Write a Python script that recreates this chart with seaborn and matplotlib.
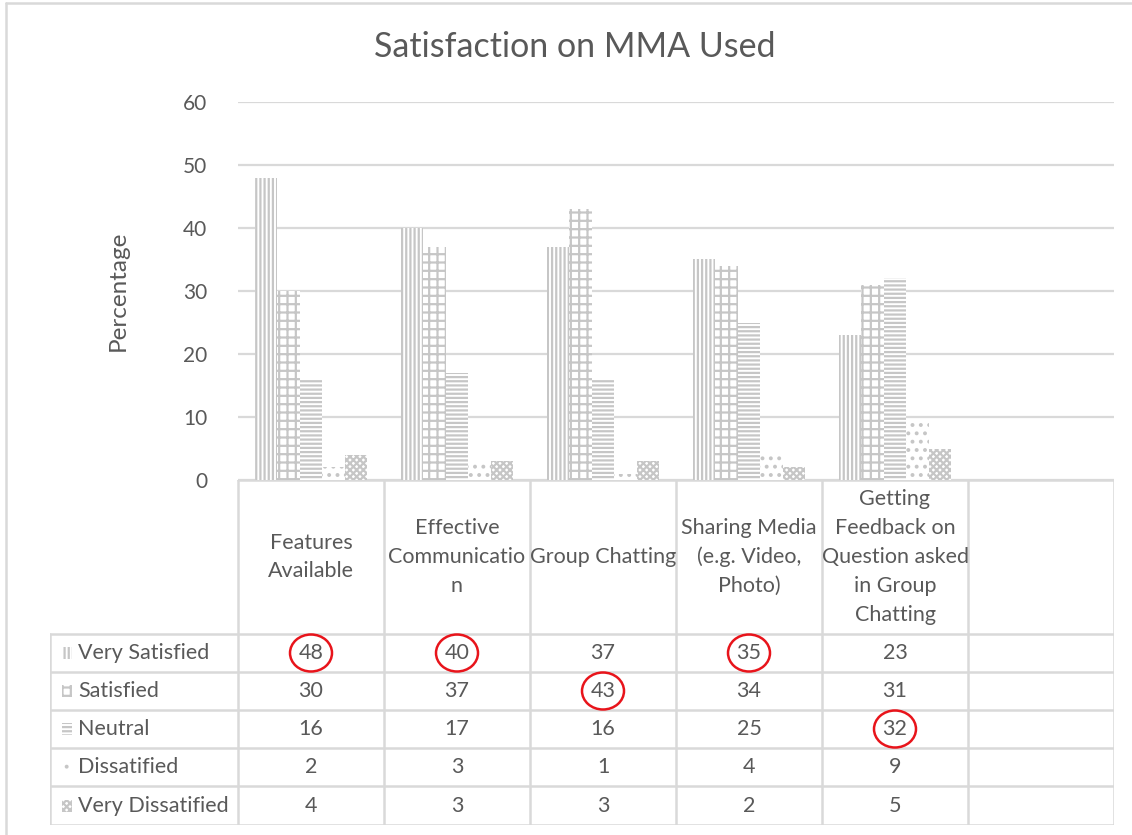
import matplotlib
matplotlib.use("Agg")
import matplotlib.pyplot as plt
from matplotlib.patches import Ellipse, Rectangle
from matplotlib.lines import Line2D
import seaborn as sns
import pandas as pd

categories = ["Features Available", "Effective Communication", "Group Chatting",
              "Sharing Media (e.g. Video, Photo)",
              "Getting Feedback on Question asked in Group Chatting"]
header_labels = ["Features\nAvailable", "Effective\nCommunicatio\nn", "Group Chatting",
                 "Sharing Media\n(e.g. Video,\nPhoto)",
                 "Getting\nFeedback on\nQuestion asked\nin Group\nChatting"]
series = ["Very Satisfied", "Satisfied", "Neutral", "Dissatified", "Very Dissatified"]
very_satisfied = [48, 40, 37, 35, 23]
satisfied = [30, 37, 43, 34, 31]
neutral = [16, 17, 16, 25, 32]
dissatisfied = [2, 3, 1, 4, 9]
very_dissatisfied = [4, 3, 3, 2, 5]
yticks = [0, 10, 20, 30, 40, 50, 60]
title = "Satisfaction on MMA Used"
ylabel = "Percentage"

values = [very_satisfied, satisfied, neutral, dissatisfied, very_dissatisfied]
rows = []
for s, vals in zip(series, values):
    for c, v in zip(categories, vals):
        rows.append({"Category": c, "Series": s, "Value": v})
df = pd.DataFrame(rows)

sns.set_theme(style="white")
plt.rcParams["font.family"] = ["Lato", "DejaVu Sans"]
plt.rcParams["hatch.linewidth"] = 1.6

W, H = 1132, 835
fig = plt.figure(figsize=(W / 100, H / 100), dpi=100)
fig.patch.set_facecolor("white")

GRID = "#d9d9d9"
TXT = "#595959"
HATCH_COL = "#c6c6c6"
hatches = ["||||", "++", "----", "..", "xxxxx"]
FS = 15.5

ax_l, ax_r, ax_b, ax_t = 238, 1114, 480, 102
ax = fig.add_axes([ax_l / W, 1 - ax_b / H, (ax_r - ax_l) / W, (ax_b - ax_t) / H])
sns.barplot(data=df, x="Category", y="Value", hue="Series", order=categories,
            hue_order=series, width=0.77, gap=0, legend=False, ax=ax,
            errorbar=None)
for cont, h in zip(ax.containers, hatches):
    for p in cont:
        p.set_facecolor("white")
        p.set_edgecolor(HATCH_COL)
        p.set_linewidth(0)
        p.set_hatch(h)
        p.set_zorder(3)

ax.set_xlim(-0.5, 5.5)
ax.set_ylim(0, 60)
ax.set_yticks(yticks)
ax.set_yticklabels([str(t) for t in yticks], fontsize=15, color=TXT)
ax.tick_params(axis="y", length=0, pad=22)
ax.set_xticks([])
ax.set_xlabel("")
ax.set_ylabel("")
ax.grid(axis="y", color=GRID, linewidth=1.6, zorder=0)
for sp in ax.spines.values():
    sp.set_visible(False)
ax.set_facecolor("none")

fig.text(118 / W, 1 - 291 / H, ylabel, rotation=90, ha="center", va="center",
         fontsize=17.5, color=TXT)
fig.text(575 / W, 1 - 47 / H, title, ha="center", va="center",
         fontsize=24.5, color=TXT)

# data table
tb_l, tb_r, tb_t, tb_b = 50, 1114, 480, 825
tx = fig.add_axes([tb_l / W, 1 - tb_b / H, (tb_r - tb_l) / W, (tb_b - tb_t) / H])
unit = (ax_r - ax_l) / 6.0
x_left = -0.5 - (ax_l - tb_l) / unit
tx.set_xlim(x_left, 5.5)
tx.set_ylim(tb_b - tb_t, 0)
tx.axis("off")

row_lines = [154, 192, 230, 268, 306, 345]
lw = 1.8
tx.add_line(Line2D([-0.5, 5.5], [0, 0], color=GRID, lw=lw))
for y in row_lines:
    tx.add_line(Line2D([x_left, 5.5], [y, y], color=GRID, lw=lw))
tx.add_line(Line2D([x_left, x_left], [row_lines[0], row_lines[-1]], color=GRID, lw=lw))
for xv in [-0.5, 0.5, 1.5, 2.5, 3.5, 4.5, 5.5]:
    tx.add_line(Line2D([xv, xv], [0, row_lines[-1]], color=GRID, lw=lw))

for i, lab in enumerate(header_labels):
    tx.text(i, 77, lab, ha="center", va="center", fontsize=FS, color=TXT,
            linespacing=1.55)

sw = 10 / unit
for r, (s, vals, h) in enumerate(zip(series, values, hatches)):
    yc = (row_lines[r] + row_lines[r + 1]) / 2
    tx.add_patch(Rectangle((x_left + 12 / unit, yc - 6), sw, 12, facecolor="white",
                           edgecolor=HATCH_COL, lw=0, hatch=h))
    tx.text(x_left + 28 / unit, yc, s, ha="left", va="center", fontsize=FS, color=TXT)
    for i, v in enumerate(vals):
        tx.text(i, yc, str(v), ha="center", va="center", fontsize=FS, color=TXT)

# red circles around the highest value in each category
for i in range(len(categories)):
    col = [v[i] for v in values]
    r = col.index(max(col))
    yc = (row_lines[r] + row_lines[r + 1]) / 2
    tx.add_patch(Ellipse((i, yc), 42 / unit, 37, fill=False, edgecolor="#e8141b",
                         lw=1.8, zorder=5))

# outer frame
fig.add_artist(Line2D([6 / W, 6 / W], [0, 1 - 3 / H], color=GRID, lw=1.8,
                      transform=fig.transFigure))
fig.add_artist(Line2D([6 / W, 1], [1 - 3 / H, 1 - 3 / H], color=GRID, lw=1.8,
                      transform=fig.transFigure))

fig.savefig("out.png", dpi=100, facecolor="white")
